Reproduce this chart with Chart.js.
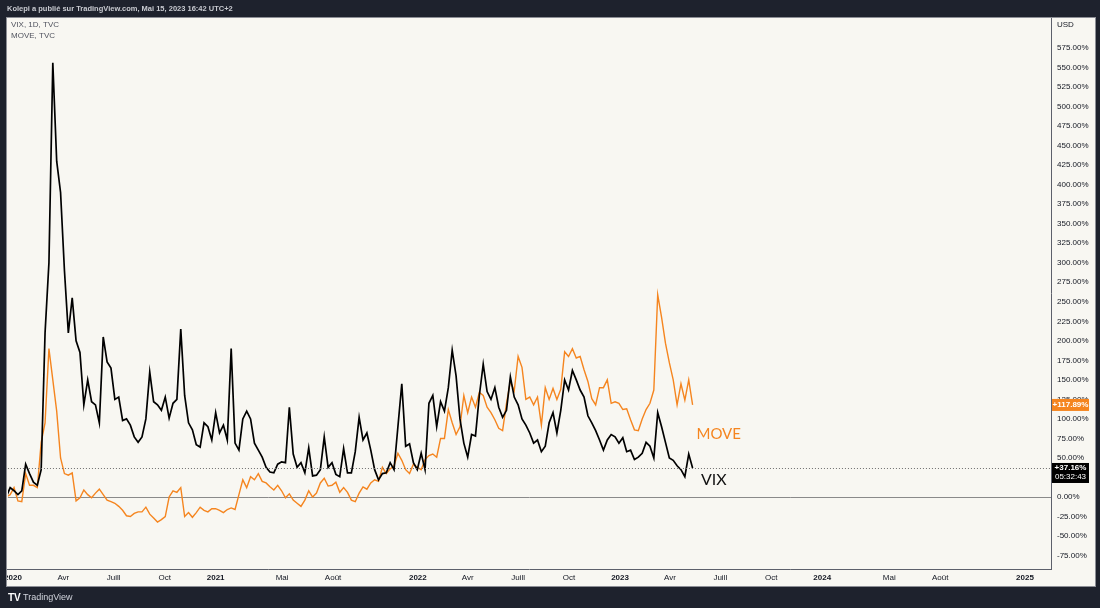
<!DOCTYPE html>
<html>
<head>
<meta charset="utf-8">
<title>VIX vs MOVE</title>
<script src="https://cdn.jsdelivr.net/npm/chart.js@4.4.1/dist/chart.umd.min.js"></script>
<style>
  html, body { margin: 0; padding: 0; background: #1e222d; }
  #wrap { position: relative; width: 1100px; height: 608px; }
</style>
</head>
<body>
<div id="wrap"><canvas id="chart" width="1100" height="608"></canvas></div>
<script>
// Weekly closes (Fridays), % change from the first visible bar
const dates = [
  '2019-12-20', '2019-12-27',
  '2020-01-03', '2020-01-10', '2020-01-17', '2020-01-24', '2020-01-31', '2020-02-07', '2020-02-14', '2020-02-21', '2020-02-28',
  '2020-03-06', '2020-03-13', '2020-03-20', '2020-03-27', '2020-04-03', '2020-04-10', '2020-04-17', '2020-04-24', '2020-05-01',
  '2020-05-08', '2020-05-15', '2020-05-22', '2020-05-29', '2020-06-05', '2020-06-12', '2020-06-19', '2020-06-26', '2020-07-03',
  '2020-07-10', '2020-07-17', '2020-07-24', '2020-07-31', '2020-08-07', '2020-08-14', '2020-08-21', '2020-08-28', '2020-09-04',
  '2020-09-11', '2020-09-18', '2020-09-25', '2020-10-02', '2020-10-09', '2020-10-16', '2020-10-23', '2020-10-30', '2020-11-06',
  '2020-11-13', '2020-11-20', '2020-11-27', '2020-12-04', '2020-12-11', '2020-12-18', '2020-12-25',
  '2021-01-01', '2021-01-08', '2021-01-15', '2021-01-22', '2021-01-29', '2021-02-05', '2021-02-12', '2021-02-19', '2021-02-26',
  '2021-03-05', '2021-03-12', '2021-03-19', '2021-03-26', '2021-04-02', '2021-04-09', '2021-04-16', '2021-04-23', '2021-04-30',
  '2021-05-07', '2021-05-14', '2021-05-21', '2021-05-28', '2021-06-04', '2021-06-11', '2021-06-18', '2021-06-25', '2021-07-02',
  '2021-07-09', '2021-07-16', '2021-07-23', '2021-07-30', '2021-08-06', '2021-08-13', '2021-08-20', '2021-08-27', '2021-09-03',
  '2021-09-10', '2021-09-17', '2021-09-24', '2021-10-01', '2021-10-08', '2021-10-15', '2021-10-22', '2021-10-29', '2021-11-05',
  '2021-11-12', '2021-11-19', '2021-11-26', '2021-12-03', '2021-12-10', '2021-12-17', '2021-12-24', '2021-12-31',
  '2022-01-07', '2022-01-14', '2022-01-21', '2022-01-28', '2022-02-04', '2022-02-11', '2022-02-18', '2022-02-25', '2022-03-04',
  '2022-03-11', '2022-03-18', '2022-03-25', '2022-04-01', '2022-04-08', '2022-04-15', '2022-04-22', '2022-04-29', '2022-05-06',
  '2022-05-13', '2022-05-20', '2022-05-27', '2022-06-03', '2022-06-10', '2022-06-17', '2022-06-24', '2022-07-01', '2022-07-08',
  '2022-07-15', '2022-07-22', '2022-07-29', '2022-08-05', '2022-08-12', '2022-08-19', '2022-08-26', '2022-09-02', '2022-09-09',
  '2022-09-16', '2022-09-23', '2022-09-30', '2022-10-07', '2022-10-14', '2022-10-21', '2022-10-28', '2022-11-04', '2022-11-11',
  '2022-11-18', '2022-11-25', '2022-12-02', '2022-12-09', '2022-12-16', '2022-12-23', '2022-12-30',
  '2023-01-06', '2023-01-13', '2023-01-20', '2023-01-27', '2023-02-03', '2023-02-10', '2023-02-17', '2023-02-24', '2023-03-03',
  '2023-03-10', '2023-03-17', '2023-03-24', '2023-03-31', '2023-04-07', '2023-04-14', '2023-04-21', '2023-04-28', '2023-05-05',
  '2023-05-12'
];

const vix = [
  0, 12,
  8, 3, 8, 42, 30, 19, 15, 35, 210, 300,
  556, 430, 390, 290, 210, 255, 200, 185, 118, 150,
  122, 118, 95, 205, 173, 165, 125, 128, 98, 100,
  92, 77, 70, 77, 100, 160, 122, 118, 111, 128,
  101, 120, 125, 215, 130, 95, 86, 67, 64, 95,
  90, 73,
  108, 82, 92, 73, 190, 69, 60, 100, 110, 100,
  69, 60, 51, 38, 32, 31, 42, 45, 44, 115,
  55, 38, 44, 31, 63, 27, 28, 35, 77, 38,
  44, 29, 26, 62, 31, 31, 58, 102, 73, 82,
  60, 35, 22, 30, 31, 44, 35, 90, 145, 65,
  68, 44, 35,
  56, 35, 120, 130, 90, 122, 110, 140, 188, 155,
  100, 69, 51, 80, 78, 130, 170, 135, 125, 140,
  115, 102, 111, 154, 128, 118, 100, 92, 82, 69,
  73, 58, 65, 95, 108, 82, 111, 150, 137, 162,
  150, 137, 128, 104, 95, 85, 73, 60, 73, 80,
  77, 69,
  76, 58, 60, 48, 51, 56, 70, 65, 50, 108,
  90, 70, 50, 47, 40, 35, 26, 55, 37.16
];

const move = [
  0, 3,
  12, -5, -6, 30, 15, 15, 12, 70, 95, 190,
  150, 110, 50, 30, 28, 31, -5, -1, 9, 3,
  -1, 5, 10, 3, -4, -6, -8, -12, -17, -24,
  -25, -21, -19, -19, -13, -22, -27, -32, -29, -25,
  0, 8, 6, 12, -25, -20, -26, -20, -13, -17,
  -19, -15,
  -15, -17, -20, -16, -14, -16, 3, 22, 12, 26,
  22, 30, 20, 18, 13, 9, 15, 8, -1, 4,
  -4, -8, -12, -4, 8, 0, 5, 18, 24, 14,
  15, 19, 6, 12, 6, -4, -6, 5, 13, 10,
  18, 22, 20, 38, 30, 36, 40, 56, 47, 35,
  30, 42, 38,
  35, 48, 53, 55, 51, 75, 75, 112, 95, 80,
  90, 130, 108, 128, 115, 134, 130, 115, 108, 99,
  88, 85, 120, 148, 136, 180, 166, 125, 128, 118,
  128, 92, 140, 125, 139, 125, 138, 186, 180, 190,
  178, 180, 163, 148, 126, 118, 140, 140, 150, 120,
  122, 120,
  112, 113, 99, 86, 85, 100, 112, 120, 137, 259,
  230, 197, 172, 150, 118, 145, 124, 150, 117.89
];

const xTickDates = ['2020-01-01', '2020-04-01', '2020-07-01', '2020-10-01', '2021-01-01', '2021-05-01', '2021-08-01',
  '2022-01-01', '2022-04-01', '2022-07-01', '2022-10-01', '2023-01-01', '2023-04-01', '2023-07-01', '2023-10-01',
  '2024-01-01', '2024-05-01', '2024-08-01', '2025-01-01'];
const xTickLabels = ['2020', 'Avr', 'Juill', 'Oct', '2021', 'Mai', 'Août', '2022', 'Avr', 'Juill', 'Oct',
  '2023', 'Avr', 'Juill', 'Oct', '2024', 'Mai', 'Août', '2025'];
const yTicks = [-75, -50, -25, 0, 25, 50, 75, 100, 125, 150, 175, 200, 225, 250, 275, 300,
  325, 350, 375, 400, 425, 450, 475, 500, 525, 550, 575];

const BG = '#1e222d';
const PANEL = '#f8f7f2';
const ORANGE = '#f5851f';
const FONT = "'Liberation Sans', Arial, sans-serif";

// days since 2020-01-01
function dayNum(s) {
  const p = s.split('-');
  return (Date.UTC(+p[0], +p[1] - 1, +p[2]) - Date.UTC(2020, 0, 1)) / 86400000;
}

const frame = {
  id: 'frame',
  beforeDraw(chart) {
    const ctx = chart.ctx;
    ctx.save();
    ctx.fillStyle = BG;
    ctx.fillRect(0, 0, chart.width, chart.height);
    ctx.fillStyle = PANEL;
    ctx.fillRect(6, 17, 1090, 570);
    ctx.fillStyle = '#c9cbd1';
    ctx.font = 'bold 7.5px ' + FONT;
    ctx.textBaseline = 'middle';
    ctx.fillText('Kolepi a publié sur TradingView.com, Mai 15, 2023 16:42 UTC+2', 7, 9);
    // footer logo
    ctx.fillStyle = '#ffffff';
    ctx.font = 'bold 10px ' + FONT;
    ctx.fillText('TV', 8, 598);
    ctx.font = '9px ' + FONT;
    ctx.fillStyle = '#d1d4dc';
    ctx.fillText('TradingView', 23, 598);
    ctx.restore();
  },
  afterDatasetsDraw(chart) {
    const ctx = chart.ctx;
    const xs = chart.scales.x, ys = chart.scales.y;
    const area = chart.chartArea;
    ctx.save();
    // last-value line of the main series
    const yLast = Math.round(ys.getPixelForValue(vix[vix.length - 1])) + 0.5;
    ctx.strokeStyle = '#6f6f6f';
    ctx.lineWidth = 1;
    ctx.setLineDash([1, 2]);
    ctx.beginPath();
    ctx.moveTo(area.left, yLast);
    ctx.lineTo(area.right, yLast);
    ctx.stroke();
    ctx.setLineDash([]);
    // legend lines
    ctx.fillStyle = '#50535e';
    ctx.font = '8px ' + FONT;
    ctx.textBaseline = 'middle';
    ctx.fillText('VIX, 1D, TVC', 11, 25);
    ctx.fillText('MOVE, TVC', 11, 36);
    // hand annotations
    ctx.font = "15px 'Lato', 'Open Sans', sans-serif";
    ctx.fillStyle = ORANGE;
    ctx.fillText('MOVE', xs.getPixelForValue(dayNum('2023-05-19')), ys.getPixelForValue(81));
    ctx.fillStyle = '#111111';
    ctx.font = "16px 'Lato', 'Open Sans', sans-serif";
    ctx.fillText('VIX', xs.getPixelForValue(dayNum('2023-05-27')), ys.getPixelForValue(22));
    ctx.restore();
  },
  afterDraw(chart) {
    const ctx = chart.ctx;
    const ys = chart.scales.y;
    const area = chart.chartArea;
    ctx.save();
    // cut the first date label at the panel edge
    ctx.fillStyle = BG;
    ctx.fillRect(0, area.bottom, 6, 19);
    // panel outline
    ctx.strokeStyle = '#8d8f96';
    ctx.lineWidth = 1;
    ctx.strokeRect(6.5, 17.5, 1089, 569);
    ctx.fillStyle = '#131722';
    ctx.font = '8px ' + FONT;
    ctx.textBaseline = 'middle';
    ctx.fillText('USD', area.right + 6, 25);
    // price badges
    const bx = area.right + 1, bw = 37;
    const yM = ys.getPixelForValue(move[move.length - 1]);
    ctx.fillStyle = ORANGE;
    ctx.fillRect(bx, yM - 6, bw, 12);
    ctx.fillStyle = '#ffffff';
    ctx.font = 'bold 8px ' + FONT;
    ctx.textAlign = 'center';
    ctx.fillText('+' + move[move.length - 1].toFixed(2) + '%', bx + bw / 2, yM);
    const yV = ys.getPixelForValue(vix[vix.length - 1]);
    ctx.fillStyle = '#000000';
    ctx.fillRect(bx, yV - 5, bw, 20);
    ctx.fillStyle = '#ffffff';
    ctx.fillText('+' + vix[vix.length - 1].toFixed(2) + '%', bx + bw / 2, yV);
    ctx.font = '8px ' + FONT;
    ctx.fillText('05:32:43', bx + bw / 2, yV + 9);
    ctx.restore();
  }
};

new Chart(document.getElementById('chart'), {
  type: 'line',
  data: {
    datasets: [
      {
        label: 'VIX',
        data: dates.map((d, i) => ({ x: dayNum(d), y: vix[i] })),
        borderColor: '#000000',
        borderWidth: 1.7
      },
      {
        label: 'MOVE',
        data: dates.map((d, i) => ({ x: dayNum(d), y: move[i] })),
        borderColor: ORANGE,
        borderWidth: 1.4
      }
    ]
  },
  options: {
    responsive: false,
    animation: false,
    layout: { padding: { left: 6, top: 17, right: 4, bottom: 21 } },
    elements: { point: { radius: 0 }, line: { tension: 0 } },
    plugins: { legend: { display: false }, tooltip: { enabled: false } },
    scales: {
      x: {
        type: 'linear',
        min: -9,
        max: 1874,
        afterBuildTicks: s => { s.ticks = xTickDates.map(d => ({ value: dayNum(d) })); },
        afterFit: s => { s.height = 18; },
        ticks: {
          autoSkip: false,
          maxRotation: 0,
          padding: 4,
          color: '#131722',
          font: c => ({ family: FONT, size: 8, weight: /^\d+$/.test(xTickLabels[c.index]) ? 'bold' : 'normal' }),
          callback: (v, i) => xTickLabels[i]
        },
        grid: { drawTicks: false, color: 'rgba(0,0,0,0)' },
        border: { color: '#5d606b' }
      },
      y: {
        type: 'linear',
        position: 'right',
        min: -92.2,
        max: 614.7,
        afterBuildTicks: s => { s.ticks = yTicks.map(v => ({ value: v })); },
        afterFit: s => { s.width = 45; },
        ticks: {
          autoSkip: false,
          padding: 6,
          color: '#131722',
          font: { family: FONT, size: 8 },
          callback: v => v.toFixed(2) + '%'
        },
        grid: {
          drawTicks: false,
          color: c => (c.tick && c.tick.value === 0 ? '#8a8a8a' : 'rgba(0,0,0,0)')
        },
        border: { color: '#5d606b' }
      }
    }
  },
  plugins: [frame]
});
</script>
</body>
</html>
